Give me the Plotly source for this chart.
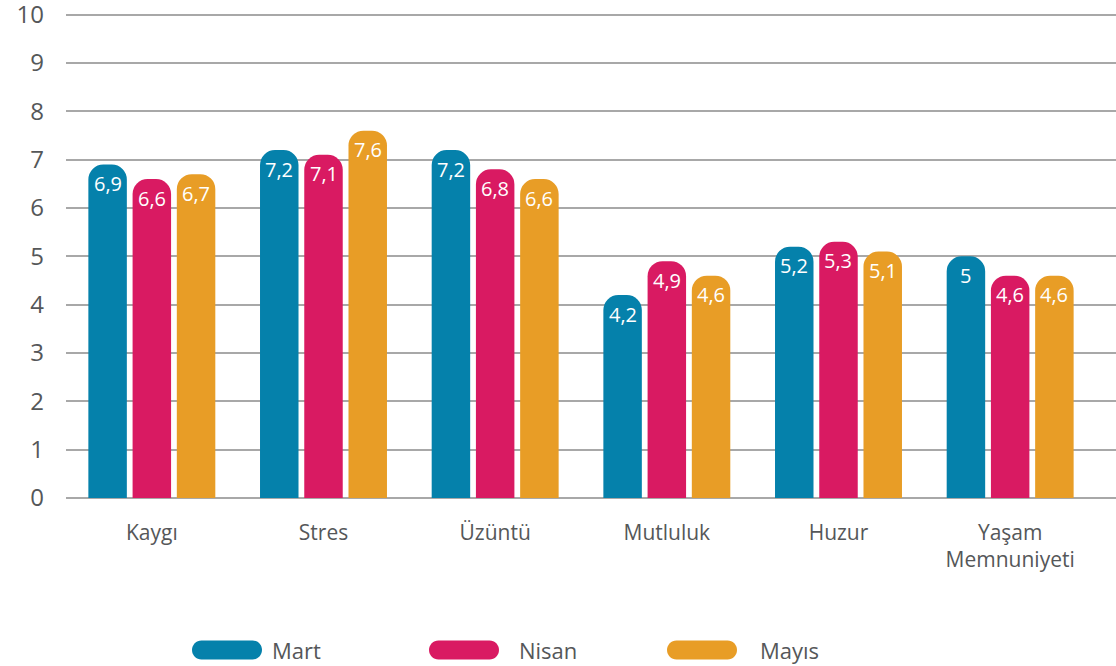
import plotly.graph_objects as go

categories = ["Kaygı", "Stres", "Üzüntü", "Mutluluk", "Huzur", "Yaşam<br>Memnuniyeti"]
series_names = ["Mart", "Nisan", "Mayıs"]
mart = [6.9, 7.2, 7.2, 4.2, 5.2, 5.0]
nisan = [6.6, 7.1, 6.8, 4.9, 5.3, 4.6]
mayis = [6.7, 7.6, 6.6, 4.6, 5.1, 4.6]
y_ticks = [0, 1, 2, 3, 4, 5, 6, 7, 8, 9, 10]

colors = ["#0581AB", "#D91A62", "#E89D26"]
FONT = "Open Sans"
TEXT_COLOR = "#555759"
GRID = "#A8A8A8"
BARGAP = 0.227
GROUPGAP = 0.13

series = [mart, nisan, mayis]
xs = list(range(len(categories)))


def fmt(v):
    s = ("%.1f" % v).rstrip("0").rstrip(".")
    return s.replace(".", ",")


fig = go.Figure()
for name, vals, col in zip(series_names, series, colors):
    fig.add_trace(go.Bar(
        x=xs, y=vals, name=name,
        marker=dict(color=col, line=dict(width=0), cornerradius=15),
        hoverinfo="skip",
        showlegend=False,
    ))

# value labels inside bar tops
slot = (1 - BARGAP) / len(series)
annotations = []
for j, vals in enumerate(series):
    off = (j - (len(series) - 1) / 2) * slot
    for i, v in enumerate(vals):
        annotations.append(dict(
            x=i + off, y=v, xref="x", yref="y", text=fmt(v),
            showarrow=False, yanchor="middle", yshift=-19,
            font=dict(family=FONT, size=20, color="white"),
        ))

# layout geometry (pixels)
PX_PER_UNIT = 48.3
Y_MAX = 10.2
PLOT_L, PLOT_W = 66, 1050
PLOT_BOTTOM = 497.6
PLOT_H = PX_PER_UNIT * Y_MAX
PLOT_T = PLOT_BOTTOM - PLOT_H

# custom legend
pill_centers = [227, 464, 702]
text_lefts = [270, 517, 758]
legend_y_px = 649.5
ly = (PLOT_BOTTOM - legend_y_px) / PLOT_H
w2, h2 = 35, 9.5
k = 0.5523 * h2
pill = (f"M {-w2 + h2},{-h2} L {w2 - h2},{-h2} "
        f"C {w2 - h2 + k},{-h2} {w2},{-k} {w2},0 "
        f"C {w2},{k} {w2 - h2 + k},{h2} {w2 - h2},{h2} "
        f"L {-w2 + h2},{h2} "
        f"C {-w2 + h2 - k},{h2} {-w2},{k} {-w2},0 "
        f"C {-w2},{-k} {-w2 + h2 - k},{-h2} {-w2 + h2},{-h2} Z")
shapes = []
for name, col, pc, tl in zip(series_names, colors, pill_centers, text_lefts):
    shapes.append(dict(
        type="path", xref="paper", yref="paper",
        xsizemode="pixel", ysizemode="pixel",
        xanchor=(pc - PLOT_L) / PLOT_W, yanchor=ly,
        path=pill, fillcolor=col, line=dict(width=0),
    ))
    annotations.append(dict(
        x=(tl - PLOT_L) / PLOT_W, y=ly, xref="paper", yref="paper",
        text=name, showarrow=False, xanchor="left", yanchor="middle",
        font=dict(family=FONT, size=22, color=TEXT_COLOR),
    ))

fig.update_layout(
    width=1116, height=666,
    margin=dict(l=PLOT_L, r=0, t=PLOT_T, b=666 - PLOT_BOTTOM, autoexpand=False),
    paper_bgcolor="white", plot_bgcolor="white",
    barmode="group", bargap=BARGAP, bargroupgap=GROUPGAP,
    font=dict(family=FONT, color=TEXT_COLOR),
    annotations=annotations, shapes=shapes,
    showlegend=False,
)
fig.update_xaxes(
    range=[-0.5, 5.5 + 20 / 171.6],
    tickvals=xs, ticktext=categories,
    tickfont=dict(family=FONT, size=21, color=TEXT_COLOR),
    showgrid=False, zeroline=False, showline=False,
    ticks="", ticklabelstandoff=20, automargin=False,
)
fig.update_yaxes(
    range=[0, Y_MAX], tickvals=y_ticks,
    tickfont=dict(family=FONT, size=24, color=TEXT_COLOR),
    showgrid=True, gridcolor=GRID, gridwidth=1.5,
    zeroline=True, zerolinecolor=GRID, zerolinewidth=1.5,
    showline=False, ticks="", ticklabelstandoff=21, automargin=False,
    ticklabeloverflow="allow",
)

fig.write_html(
    "out.html",
    config={"displayModeBar": False},
    post_script="document.body.style.margin='0';document.body.style.overflow='hidden';",
)
